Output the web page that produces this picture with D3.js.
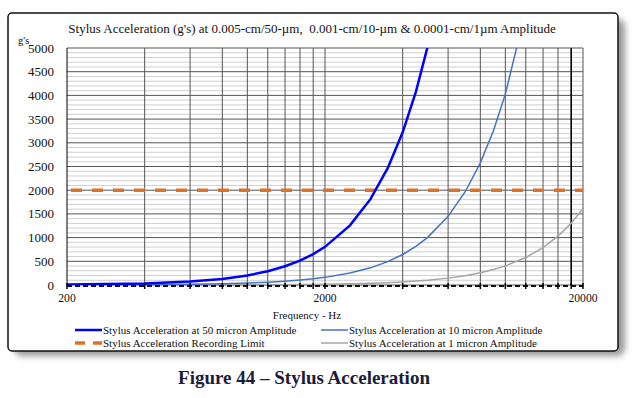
<!DOCTYPE html>
<html>
<head>
<meta charset="utf-8">
<script src="https://cdn.jsdelivr.net/npm/d3@7"></script>
<style>
  html, body { margin: 0; padding: 0; background: #fff; }
  svg { display: block; }
</style>
</head>
<body>
<svg id="chart"></svg>
<script>
// frequencies (Hz)
const freqs = [200, 400, 600, 800, 1000, 1200, 1400, 1600, 1800, 2000, 2500, 3000, 3500,
  4000, 4500, 5000, 6000, 7000, 8000, 9000, 10000, 12000, 14000, 16000, 18000, 20000];

// g's per series (curve leaves the top of the chart, clipped)
const acc50 = [8, 32, 72, 129, 201, 290, 395, 515, 652, 805, 1258, 1811, 2466,
  3221, 4076, 5032, 7246];
const acc10 = [2, 6, 15, 26, 40, 58, 79, 103, 130, 161, 252, 362, 493,
  644, 815, 1006, 1449, 1973, 2576, 3261, 4026, 5797];
const acc1 = [0.2, 0.6, 1.5, 2.6, 4, 5.8, 7.9, 10, 13, 16, 25, 36, 49,
  64, 82, 101, 145, 197, 258, 326, 403, 580, 789, 1031, 1304, 1610];
const recordLimit = 2000;

const xGrid = [200, 400, 600, 800, 1000, 1200, 1400, 1600, 1800, 2000,
  4000, 6000, 8000, 10000, 12000, 14000, 16000, 18000, 20000];
const xLabels = [200, 2000, 20000];
const yTicks = d3.range(0, 5001, 500);
const yMinor = d3.range(0, 5001, 100);

const legendItems = [
  { name: "Stylus Acceleration at 50 micron Amplitude", color: "#0000ff", w: 2.5, dash: null },
  { name: "Stylus Acceleration at 10 micron Amplitude", color: "#4472c4", w: 1.5, dash: null },
  { name: "Stylus Acceleration Recording Limit", color: "#e07128", w: 3.5, dash: "10,8" },
  { name: "Stylus Acceleration at 1 micron Amplitude", color: "#a5a5a5", w: 1.5, dash: null }
];

const width = 635, height = 398;
const svg = d3.select("#chart").attr("width", width).attr("height", height);
const serif = "'Liberation Serif', 'Times New Roman', serif";

// frame with soft shadow
const defs = svg.append("defs");
defs.append("filter").attr("id", "blur")
  .attr("x", "-5%").attr("y", "-5%").attr("width", "110%").attr("height", "110%")
  .append("feGaussianBlur").attr("stdDeviation", 3);
defs.append("clipPath").attr("id", "plotClip")
  .append("rect").attr("x", 67).attr("y", 48).attr("width", 516).attr("height", 237);

svg.append("rect").attr("x", 14).attr("y", 19).attr("width", 611).attr("height", 337)
  .attr("rx", 8).attr("fill", "#999").attr("filter", "url(#blur)");
svg.append("rect").attr("x", 8).attr("y", 13).attr("width", 610).attr("height", 338)
  .attr("rx", 4).attr("fill", "#fff").attr("stroke", "#111").attr("stroke-width", 1.5);

const x = d3.scaleLog().domain([200, 20000]).range([67, 583]);
const y = d3.scaleLinear().domain([0, 5000]).range([285, 48]);

const g = svg.append("g");

// minor horizontal grid
g.selectAll("line.minor").data(yMinor.filter(v => v % 500 !== 0)).join("line")
  .attr("x1", 67).attr("x2", 583)
  .attr("y1", d => y(d)).attr("y2", d => y(d))
  .attr("stroke", "#d0d0d0").attr("stroke-width", 1);

// major horizontal grid
g.selectAll("line.major").data(yTicks).join("line")
  .attr("x1", 67).attr("x2", 583)
  .attr("y1", d => y(d)).attr("y2", d => y(d))
  .attr("stroke", "#555").attr("stroke-width", 1);

// vertical grid
g.selectAll("line.vgrid").data(xGrid).join("line")
  .attr("x1", d => x(d)).attr("x2", d => x(d))
  .attr("y1", 48).attr("y2", 285)
  .attr("stroke", d => (d === 18000 || d === 200) ? "#000" : "#555")
  .attr("stroke-width", d => d === 18000 ? 1.6 : 1);

// recording limit
g.append("line")
  .attr("x1", 67).attr("x2", 583)
  .attr("y1", y(recordLimit)).attr("y2", y(recordLimit))
  .attr("stroke", "#e07128").attr("stroke-width", 3.5)
  .attr("stroke-dasharray", "11,10").attr("stroke-dashoffset", -4);

// series
const line = d3.line().x((d, i) => x(freqs[i])).y(d => y(d));
const lines = g.append("g").attr("clip-path", "url(#plotClip)");
lines.append("path").datum(acc1).attr("d", line)
  .attr("fill", "none").attr("stroke", "#a5a5a5").attr("stroke-width", 1.5);
lines.append("path").datum(acc10).attr("d", line)
  .attr("fill", "none").attr("stroke", "#4472c4").attr("stroke-width", 1.5);
lines.append("path").datum(acc50).attr("d", line)
  .attr("fill", "none").attr("stroke", "#0000ff").attr("stroke-width", 2.5);

// x axis: dashed black line with ticks
g.append("line").attr("x1", 67).attr("x2", 583).attr("y1", 286).attr("y2", 286)
  .attr("stroke", "#111").attr("stroke-width", 2).attr("stroke-dasharray", "5,3");
g.selectAll("line.xtick").data(xGrid).join("line")
  .attr("x1", d => x(d)).attr("x2", d => x(d))
  .attr("y1", 283).attr("y2", 289)
  .attr("stroke", "#000").attr("stroke-width", 1.5);

// y tick labels
g.selectAll("text.ylab").data(yTicks).join("text")
  .attr("x", 54).attr("y", d => y(d) + 4.5)
  .attr("text-anchor", "end")
  .attr("font-family", serif).attr("font-size", "13px").attr("fill", "#111")
  .text(d => d);

g.append("text").attr("x", 18).attr("y", 44)
  .attr("font-family", serif).attr("font-size", "10.5px").attr("fill", "#111")
  .text("g's");

// x tick labels
g.selectAll("text.xlab").data(xLabels).join("text")
  .attr("x", d => x(d)).attr("y", 302)
  .attr("text-anchor", "middle")
  .attr("font-family", serif).attr("font-size", "11.6px").attr("fill", "#111")
  .text(d => d);

g.append("text").attr("x", 307).attr("y", 319)
  .attr("text-anchor", "middle")
  .attr("font-family", serif).attr("font-size", "11px").attr("fill", "#111")
  .text("Frequency - Hz");

// title
svg.append("text").attr("x", 312).attr("y", 33)
  .attr("text-anchor", "middle").style("white-space", "pre")
  .attr("font-family", serif).attr("font-size", "13px").attr("fill", "#111")
  .text("Stylus Acceleration (g's) at 0.005-cm/50-µm,  0.001-cm/10-µm & 0.0001-cm/1µm Amplitude");

// legend
const legPos = [[75, 330], [321, 330], [75, 343], [321, 343]];
const leg = svg.append("g").selectAll("g").data(legendItems).join("g")
  .attr("transform", (d, i) => `translate(${legPos[i][0]},${legPos[i][1]})`);
leg.append("line").attr("x1", 0).attr("x2", 27).attr("y1", 0).attr("y2", 0)
  .attr("stroke", d => d.color).attr("stroke-width", d => d.w)
  .attr("stroke-dasharray", d => d.dash);
leg.append("text").attr("x", 28).attr("y", 4)
  .attr("font-family", serif).attr("font-size", "11px").attr("fill", "#111")
  .text(d => d.name);

// caption
svg.append("text").attr("x", 304).attr("y", 384)
  .attr("text-anchor", "middle")
  .attr("font-family", serif).attr("font-weight", "bold").attr("font-size", "19px")
  .attr("fill", "#1c1c38")
  .text("Figure 44 – Stylus Acceleration");
</script>
</body>
</html>
